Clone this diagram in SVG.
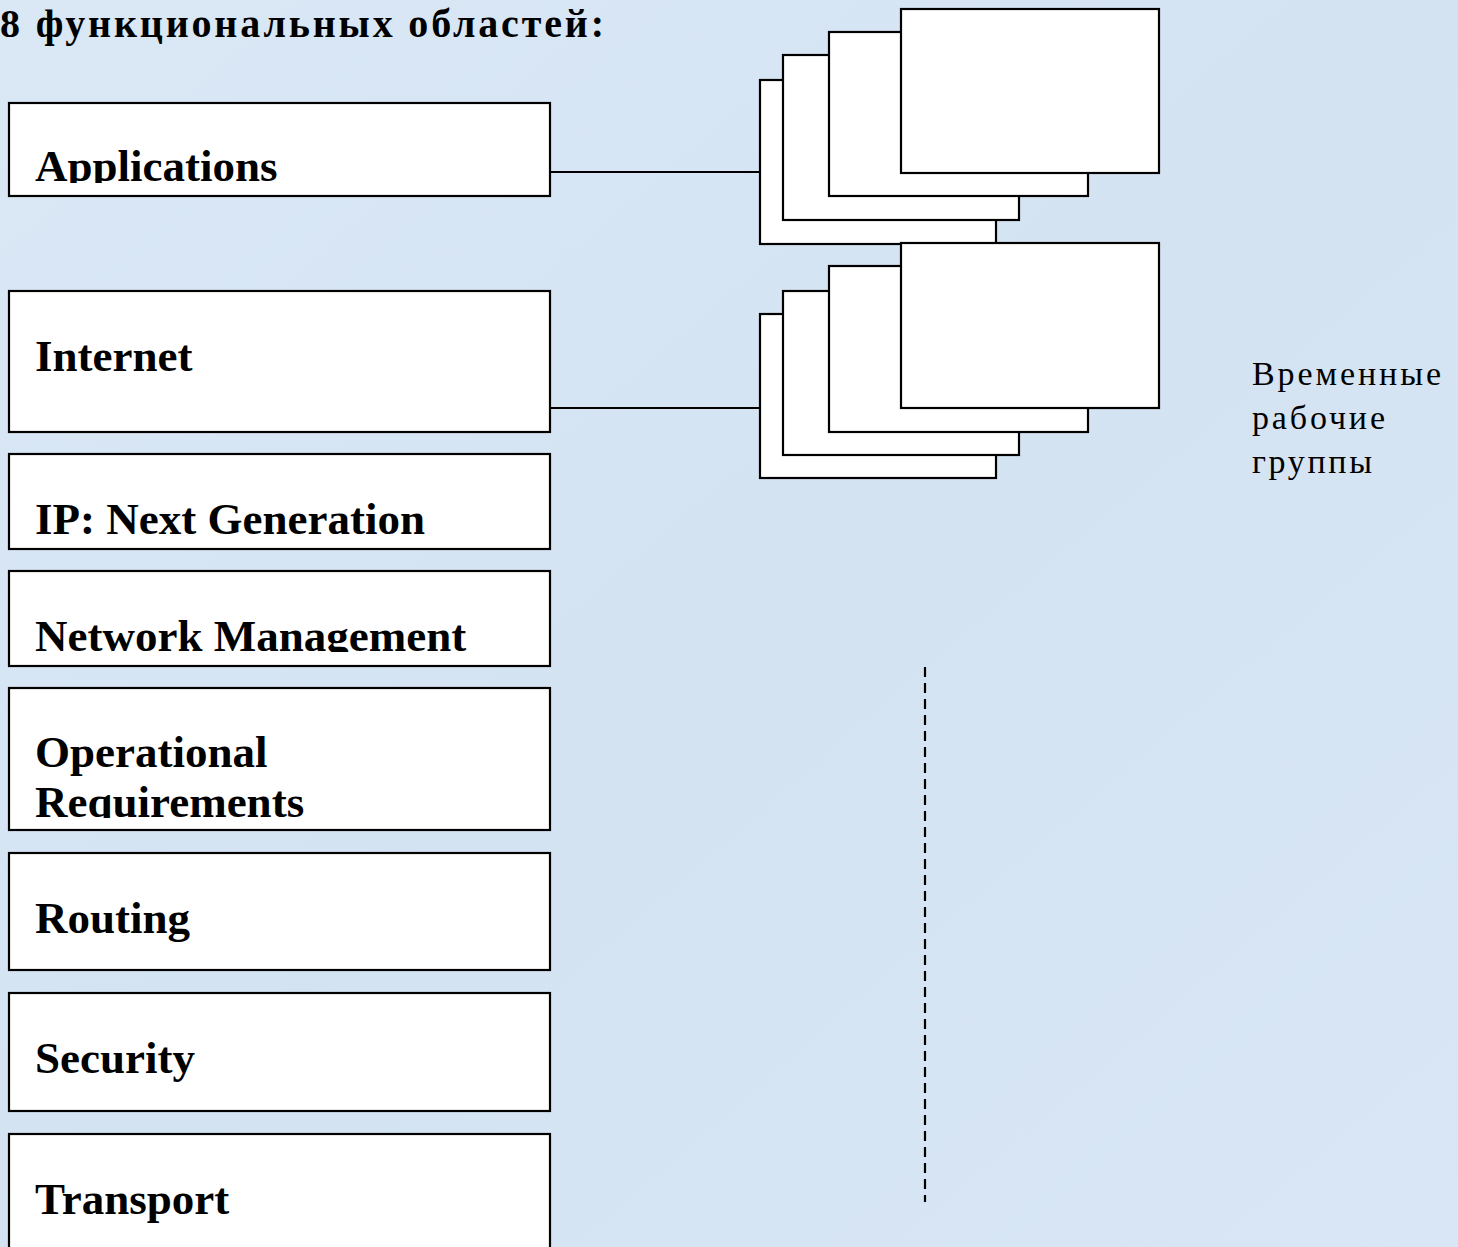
<svg xmlns="http://www.w3.org/2000/svg" width="1458" height="1247" viewBox="0 0 1458 1247">
<defs>
<linearGradient id="bg" x1="0" y1="0" x2="1" y2="1">
<stop offset="0" stop-color="#dae8f6"/>
<stop offset="0.5" stop-color="#d4e3f2"/>
<stop offset="1" stop-color="#d8e6f5"/>
</linearGradient>
<clipPath id="c1"><rect x="0" y="100" width="560" height="83"/></clipPath>
<clipPath id="c4"><rect x="0" y="570" width="560" height="82"/></clipPath>
<clipPath id="c5"><rect x="0" y="690" width="560" height="128"/></clipPath>
<style>
.box{fill:#fff;stroke:#000;stroke-width:2.2}
.lbl{font-family:"Liberation Serif","Times New Roman",serif;font-weight:bold;font-size:45px;fill:#000}
.title{font-family:"Liberation Serif","Times New Roman",serif;font-weight:bold;font-size:40px;fill:#000}
.side{font-family:"Liberation Serif","Times New Roman",serif;font-size:34px;fill:#000}
.ln{stroke:#000;stroke-width:2.2;fill:none}
.dash{stroke:#000;stroke-width:2.2;stroke-dasharray:10 6;fill:none}
</style>
</defs>
<rect width="1458" height="1247" fill="url(#bg)"/>
<text class="title" x="0" y="37" textLength="604" lengthAdjust="spacing">8 функциональных областей:</text>

<g id="connectors">
<line class="ln" x1="550" y1="172" x2="760" y2="172"/>
<line class="ln" x1="550" y1="408" x2="760" y2="408"/>
<line class="dash" x1="925" y1="667" x2="925" y2="1202"/>
</g>

<g id="node-applications">
<rect class="box" x="9" y="103" width="541" height="93"/>
<text class="lbl" x="35" y="181" clip-path="url(#c1)">Applications</text>
</g>
<g id="node-internet">
<rect class="box" x="9" y="291" width="541" height="141"/>
<text class="lbl" x="35" y="371">Internet</text>
</g>
<g id="node-ipng">
<rect class="box" x="9" y="454" width="541" height="95"/>
<text class="lbl" x="35" y="534">IP: Next Generation</text>
</g>
<g id="node-netmgmt">
<rect class="box" x="9" y="571" width="541" height="95"/>
<text class="lbl" x="35" y="651" clip-path="url(#c4)">Network Management</text>
</g>
<g id="node-opreq">
<rect class="box" x="9" y="688" width="541" height="142"/>
<g clip-path="url(#c5)">
<text class="lbl" x="35" y="767">Operational</text>
<text class="lbl" x="35" y="817">Requirements</text>
</g>
</g>
<g id="node-routing">
<rect class="box" x="9" y="853" width="541" height="117"/>
<text class="lbl" x="35" y="933">Routing</text>
</g>
<g id="node-security">
<rect class="box" x="9" y="993" width="541" height="118"/>
<text class="lbl" x="35" y="1073">Security</text>
</g>
<g id="node-transport">
<rect class="box" x="9" y="1134" width="541" height="130"/>
<text class="lbl" x="35" y="1214">Transport</text>
</g>

<g id="stack-1">
<rect class="box" x="760" y="80" width="236" height="164"/>
<rect class="box" x="783" y="55" width="236" height="165"/>
<rect class="box" x="829" y="32" width="259" height="164"/>
<rect class="box" x="901" y="9" width="258" height="164"/>
</g>
<g id="stack-2">
<rect class="box" x="760" y="314" width="236" height="164"/>
<rect class="box" x="783" y="291" width="236" height="164"/>
<rect class="box" x="829" y="266" width="259" height="166"/>
<rect class="box" x="901" y="243" width="258" height="165"/>
</g>

<g id="label-temp">
<text class="side" x="1252" y="385" textLength="189" lengthAdjust="spacing">Временные</text>
<text class="side" x="1252" y="429" textLength="133" lengthAdjust="spacing">рабочие</text>
<text class="side" x="1252" y="473" textLength="120" lengthAdjust="spacing">группы</text>
</g>
</svg>
